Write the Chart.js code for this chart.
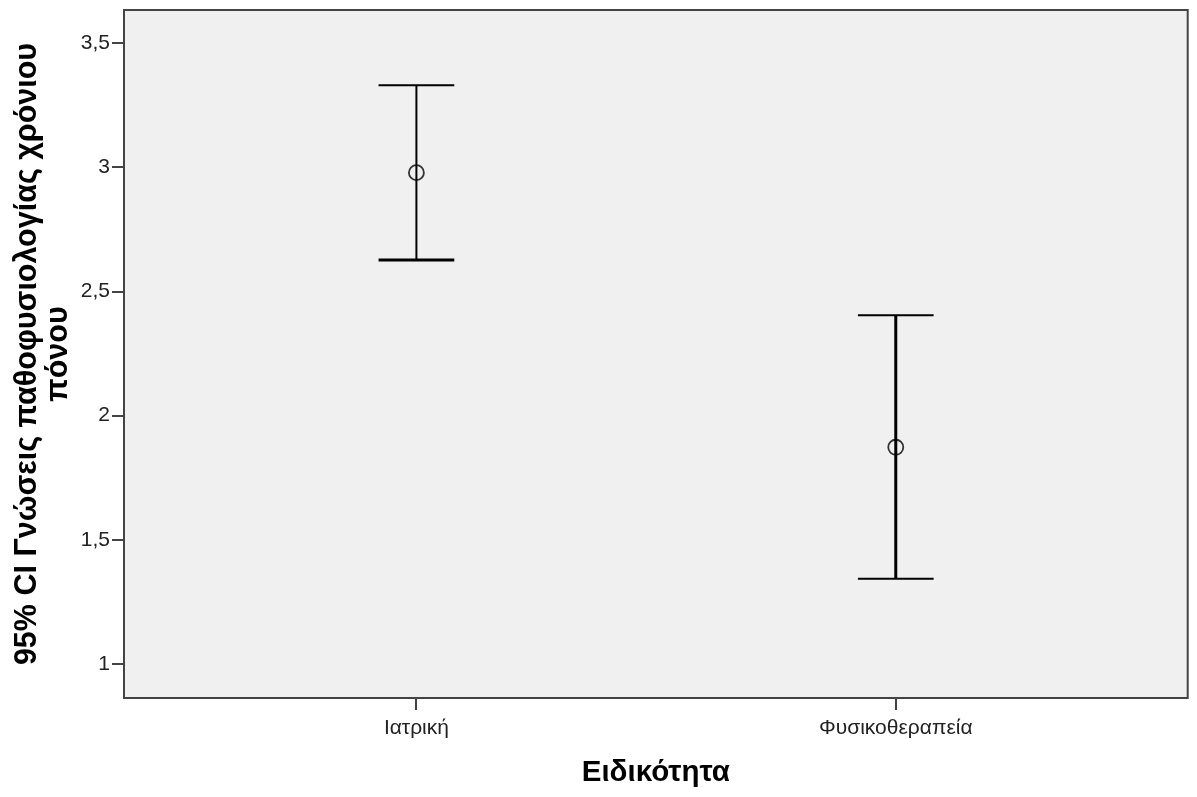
<!DOCTYPE html>
<html>
<head>
<meta charset="utf-8">
<script src="https://cdn.jsdelivr.net/npm/chart.js@4.4.1/dist/chart.umd.min.js"></script>
<style>
  html, body { margin: 0; padding: 0; background: #ffffff; }
  #wrap { width: 1197px; height: 797px; }
</style>
</head>
<body>
<div id="wrap"><canvas id="chart" width="1197" height="797"></canvas></div>
<script>
// Group means with 95% confidence intervals
const categories = ['Ιατρική', 'Φυσικοθεραπεία'];
const means = [2.979, 1.873];
const lowerCI = [2.627, 1.343];
const upperCI = [3.331, 2.405];
const yTicks = [1, 1.5, 2, 2.5, 3, 3.5];
const yTitle = ['95% CI Γνώσεις παθοφυσιολογίας χρόνιου', 'πόνου'];
const xTitle = 'Ειδικότητα';

const FONT = "'Liberation Sans', Arial, sans-serif";
const CAP_HALF = 0.079;          // half width of the whisker caps, in x units
const WHISKER_WIDTHS = [2, 3];

const datasets = [];
categories.forEach((cat, i) => {
  datasets.push({
    label: cat + ' CI',
    data: [{ x: i, y: lowerCI[i] }, { x: i, y: upperCI[i] }],
    showLine: true, borderColor: '#000', borderWidth: WHISKER_WIDTHS[i], pointRadius: 0
  });
  datasets.push({
    label: cat + ' upper',
    data: [{ x: i - CAP_HALF, y: upperCI[i] }, { x: i + CAP_HALF, y: upperCI[i] }],
    showLine: true, borderColor: '#000', borderWidth: 2, pointRadius: 0
  });
  datasets.push({
    label: cat + ' lower',
    data: [{ x: i - CAP_HALF, y: lowerCI[i] }, { x: i + CAP_HALF, y: lowerCI[i] }],
    showLine: true, borderColor: '#000', borderWidth: i === 0 ? 3 : 2, pointRadius: 0
  });
});
datasets.push({
  label: 'Mean',
  data: categories.map((c, i) => ({ x: i, y: means[i] })),
  showLine: false,
  pointStyle: 'circle',
  pointRadius: 7.5,
  pointBorderWidth: 1.8,
  pointBorderColor: '#333',
  pointBackgroundColor: 'rgba(0,0,0,0)'
});

// Grey plot background and dark frame around the chart area
const frame = {
  id: 'frame',
  beforeDraw(chart) {
    const { ctx, chartArea: a } = chart;
    ctx.save();
    ctx.fillStyle = '#f0f0f0';
    ctx.fillRect(a.left, a.top, a.right - a.left, a.bottom - a.top);
    ctx.restore();
  },
  afterDraw(chart) {
    const { ctx, chartArea: a } = chart;
    ctx.save();
    ctx.strokeStyle = '#444';
    ctx.lineWidth = 2;
    ctx.strokeRect(a.left, a.top, a.right - a.left, a.bottom - a.top);
    ctx.restore();
  }
};

new Chart(document.getElementById('chart'), {
  type: 'scatter',
  data: { datasets },
  options: {
    responsive: false,
    animation: false,
    devicePixelRatio: 1,
    layout: { padding: { left: 0, top: 10, right: 8, bottom: 0 } },
    plugins: { legend: { display: false }, tooltip: { enabled: false } },
    scales: {
      x: {
        type: 'linear',
        min: -0.61,
        max: 1.609,
        afterFit(s) { s.height = 99; s.paddingLeft = 0; s.paddingRight = 0; },
        afterBuildTicks(s) { s.ticks = categories.map((c, i) => ({ value: i })); },
        grid: { drawOnChartArea: false, drawTicks: true, tickLength: 12, color: '#444', lineWidth: 2 },
        border: { display: false },
        ticks: {
          autoSkip: false, maxRotation: 0, padding: 6,
          color: '#222', font: { family: FONT, size: 21 },
          callback: v => categories[v] ?? ''
        },
        title: {
          display: true, text: xTitle, color: '#000',
          font: { family: FONT, size: 29.5, weight: 'bold' },
          padding: { top: 0, bottom: 6 }
        }
      },
      y: {
        type: 'linear',
        min: 0.863,
        max: 3.634,
        afterFit(s) { s.width = 124; s.paddingTop = 0; s.paddingBottom = 0; },
        afterBuildTicks(s) { s.ticks = yTicks.map(v => ({ value: v })); },
        grid: { drawOnChartArea: false, drawTicks: true, tickLength: 12, color: '#444', lineWidth: 2 },
        border: { display: false },
        ticks: {
          padding: 2, color: '#222', font: { family: FONT, size: 21 },
          callback: v => String(v).replace('.', ',')
        },
        title: {
          display: true, text: yTitle, color: '#000',
          font: { family: FONT, size: 30.5, weight: 'bold', lineHeight: 1.02 },
          padding: { top: 12, bottom: 0 }
        }
      }
    }
  },
  plugins: [frame]
});
</script>
</body>
</html>
